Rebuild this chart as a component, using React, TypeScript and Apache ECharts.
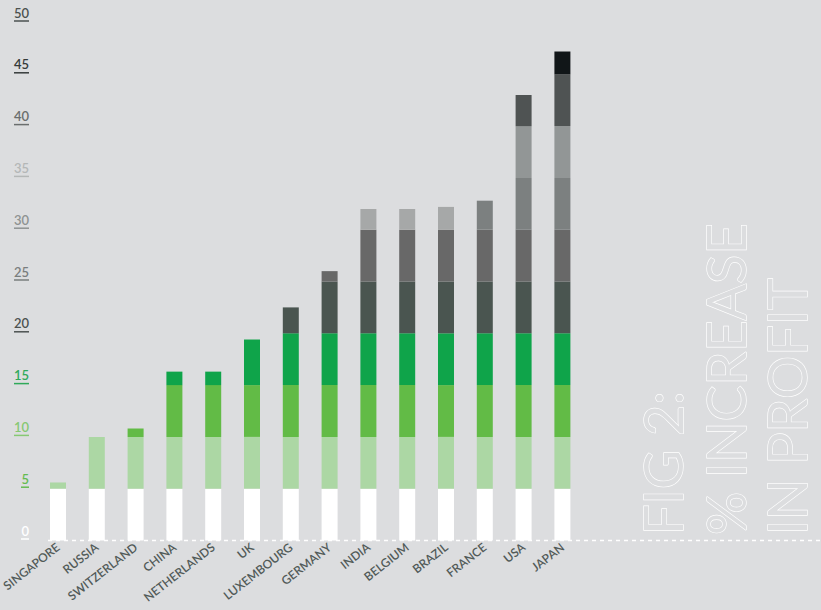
import React, { useEffect, useRef } from "react";
import * as echarts from "echarts";

const categories = [
  "SINGAPORE", "RUSSIA", "SWITZERLAND", "CHINA", "NETHERLANDS", "UK", "LUXEMBOURG",
  "GERMANY", "INDIA", "BELGIUM", "BRAZIL", "FRANCE", "USA", "JAPAN",
];
const totals = [5.6, 10.0, 10.8, 16.3, 16.3, 19.4, 22.5, 26.0, 32.0, 32.0, 32.2, 32.8, 43.0, 47.2];
const bandSize = 5;
const bandColors = [
  "#ffffff", "#acd7a4", "#62bb46", "#0fa44a", "#4a5550",
  "#686868", "#7c8080", "#929696", "#4f5353", "#111618",
];
const lightTopCountries = ["INDIA", "BELGIUM", "BRAZIL"];
const lightTopColor = "#a6a8a8";
const yTicks = [0, 5, 10, 15, 20, 25, 30, 35, 40, 45, 50];
const yTickColors = [
  "#ffffff", "#64bb50", "#86c873", "#2fa95a", "#4b5150", "#7a7e7e",
  "#8e9292", "#b4b7b7", "#6a6e6e", "#353a3a", "#4b5150",
];
const titleLines = ["FIG 2:", "% INCREASE", "IN PROFIT"];

const BG = "#dcdddf";

export default function App() {
  const ref = useRef<HTMLDivElement>(null);
  useEffect(() => {
    document.body.style.margin = "0";
    document.body.style.background = BG;
    const chart = echarts.init(ref.current!, null, { renderer: "svg" });

    const series = bandColors.map((color, b) => ({
      type: "bar",
      stack: "total",
      barWidth: 16,
      itemStyle: { color },
      data: totals.map((t, i) => {
        const v = Math.max(0, Math.min(bandSize, t - b * bandSize));
        if (v <= 0) return "-";
        if (b === 6 && lightTopCountries.includes(categories[i])) {
          return { value: v, itemStyle: { color: lightTopColor } };
        }
        return v;
      }),
    }));

    const rich: any = {};
    yTicks.forEach((v, i) => {
      rich["t" + i] = {
        color: yTickColors[i],
        fontSize: 13,
        fontFamily: "Lato",
        fontWeight: 600,
        lineHeight: 14,
        align: "right",
      };
      rich["u" + i] = {
        width: v < 10 ? 8 : 15,
        height: 1.5,
        lineHeight: 3,
        backgroundColor: yTickColors[i],
        align: "right",
      };
    });

    const titleX = [640, 703, 764];
    const titleGraphics = titleLines.map((line, i) => ({
      type: "text",
      x: titleX[i],
      y: 535,
      rotation: Math.PI / 2,
      style: {
        text: line,
        font: "400 54px Lato",
        lineHeight: 44,
        fill: BG,
        stroke: "#ffffff",
        lineWidth: 1.3,
        textAlign: "left",
        textVerticalAlign: "top",
      },
    }));

    chart.setOption({
      animation: false,
      backgroundColor: BG,
      grid: {
        left: 38.6,
        right: 239.2,
        top: 22.5,
        bottom: 69.5,
        containLabel: false,
        outerBoundsMode: "none",
      },
      xAxis: {
        type: "category",
        data: categories,
        axisLine: { show: false },
        axisTick: { show: false },
        axisLabel: {
          interval: 0,
          rotate: 38,
          margin: 5,
          padding: [30, 0, 0, 0],
          color: "#515a58",
          fontSize: 12,
          fontFamily: "Lato",
          fontWeight: 600,
        },
      },
      yAxis: {
        type: "value",
        min: 0,
        max: 50,
        interval: 5,
        axisLine: { show: false },
        axisTick: { show: false },
        splitLine: { show: false },
        axisLabel: {
          margin: 9.6,
          verticalAlign: "bottom",
          formatter: (v: number) => {
            const i = yTicks.indexOf(v);
            return `{t${i}|${v}}\n{u${i}|}`;
          },
          rich,
        },
      },
      graphic: [
        {
          type: "line",
          shape: { x1: 48, y1: 540.5, x2: 821, y2: 540.5 },
          style: { stroke: "#ffffff", lineWidth: 1.5, lineDash: [4, 4] },
          z: 10,
        },
        ...titleGraphics,
      ],
      series,
    });
    return () => chart.dispose();
  }, []);
  return <div ref={ref} style={{ width: 821, height: 610 }} />;
}
